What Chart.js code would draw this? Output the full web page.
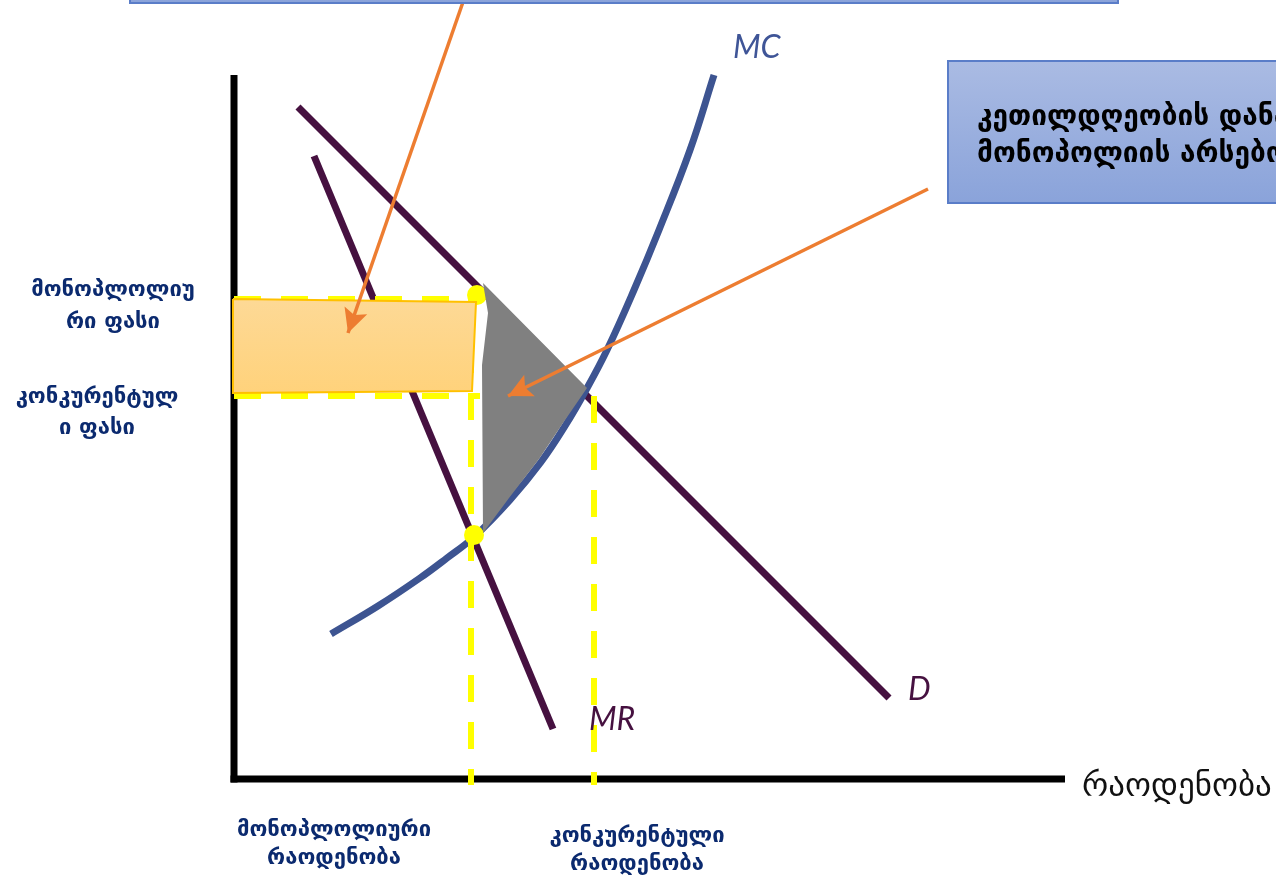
<!DOCTYPE html>
<html lang="ka">
<head>
<meta charset="UTF-8" />
<title>მონოპოლია</title>
<script src="https://cdn.jsdelivr.net/npm/chart.js"></script>
<style>
  html, body { margin: 0; padding: 0; background: #fff; overflow: hidden; }
  canvas { display: block; }
</style>
</head>
<body>
<canvas id="chart" width="1276" height="880"></canvas>
<script>
  // curves (quantity, price)
  const demandQ = [6.4, 65.5];
  const demandP = [67.2, 8.1];
  const mrQ = [8.0, 31.9];
  const mrP = [62.3, 5.0];
  const mcQ = [9.7, 14.4, 18.6, 21.3, 24.0, 27.6, 30.7, 33.1, 35.2, 37.3, 40.0, 42.5, 45.6, 48.0];
  const mcP = [14.5, 17.3, 20.1, 22.1, 24.2, 27.9, 31.7, 35.3, 38.9, 42.9, 48.9, 54.9, 62.9, 70.4];

  // monopoly / competitive outcome
  const monoQ = 23.7;
  const compQ = 36.0;
  const monoP = 48.0;
  const compP = 38.3;
  const guideEndQ = [24.1, 24.6];
  const guideBottom = -0.6;

  // shaded areas
  const rectQ = [-0.1, 24.2, 23.8, -0.2, -0.1];
  const rectP = [48.0, 47.7, 38.8, 38.6, 48.0];
  const dwlQ = [24.9, 25.4, 24.8, 24.9, 27.5, 30.5, 32.9, 35.3, 24.9];
  const dwlP = [49.6, 46.6, 41.4, 24.6, 28.1, 32.0, 35.6, 39.1, 49.6];

  const dotQ = [24.3, 24.0];
  const dotP = [48.4, 24.4];

  // arrows (start -> tip)
  const arrow1Q = [22.9, 11.4];
  const arrow1P = [77.7, 44.6];
  const arrow2Q = [69.4, 27.4];
  const arrow2P = [59.0, 38.3];

  // axes
  const xAxisQ = [-0.35, 83.1];
  const yAxisP = [-0.35, 70.4];

  const pts = (qs, ps) => qs.map((q, i) => ({ x: q, y: ps[i] }));

  function line(label, data, color, width, order, extra) {
    return Object.assign({
      label: label,
      data: data,
      showLine: true,
      borderColor: color,
      borderWidth: width,
      pointRadius: 0,
      fill: false,
      tension: 0,
      order: order,
    }, extra || {});
  }

  const purple = "#461140";
  const yellow = "#FFFF00";
  const orange = "#ED7D31";

  const datasets = [
    line("arrow1", pts(arrow1Q, arrow1P), orange, 3.5, 1, { arrow: true }),
    line("arrow2", pts(arrow2Q, arrow2P), orange, 3.5, 1, { arrow: true }),
    line("dwl", pts(dwlQ, dwlP), "#808080", 0, 2, { fill: "shape", backgroundColor: "#808080" }),
    line("rect", pts(rectQ, rectP), "#FFC000", 2, 3, {
      fill: "shape",
      backgroundColor: (ctx) => {
        const chart = ctx.chart;
        if (!chart.chartArea) return "#FED78A";
        const y = chart.scales.y;
        const g = chart.ctx.createLinearGradient(0, y.getPixelForValue(Math.max(...rectP)), 0, y.getPixelForValue(Math.min(...rectP)));
        g.addColorStop(0, "#FDD996");
        g.addColorStop(1, "#FFD27B");
        return g;
      },
    }),
    {
      label: "dots",
      data: pts(dotQ, dotP),
      pointRadius: 10,
      pointBackgroundColor: yellow,
      pointBorderWidth: 0,
      showLine: false,
      order: 4,
    },
    line("monoP", [{ x: 0, y: monoP }, { x: guideEndQ[0], y: monoP }], yellow, 6, 5, { borderDash: [27, 20] }),
    line("compP", [{ x: 0, y: compP }, { x: guideEndQ[1], y: compP }], yellow, 6, 5, { borderDash: [27, 20] }),
    line("monoQ", [{ x: monoQ, y: monoP }, { x: monoQ, y: guideBottom }], yellow, 6, 5, { borderDash: [27, 20] }),
    line("compQ", [{ x: compQ, y: compP }, { x: compQ, y: guideBottom }], yellow, 6, 5, { borderDash: [27, 20] }),
    line("MC", pts(mcQ, mcP), "#3D5491", 7, 6, { tension: 0.4 }),
    line("MR", pts(mrQ, mrP), purple, 7, 6),
    line("D", pts(demandQ, demandP), purple, 7, 6),
    line("xAxis", [{ x: xAxisQ[0], y: 0 }, { x: xAxisQ[1], y: 0 }], "#000", 7, 7),
    line("yAxis", [{ x: 0, y: yAxisP[0] }, { x: 0, y: yAxisP[1] }], "#000", 7, 7),
  ];

  const navy = "#0B2A6F";
  const small = "bold 22px 'DejaVu Sans'";
  const labels = [
    { t: "მონოპლოლიუ", q: -12.1, p: 48.9, c: navy, f: small, a: "center" },
    { t: "რი ფასი", q: -12.1, p: 45.7, c: navy, f: small, a: "center" },
    { t: "კონკურენტულ", q: -13.7, p: 38.2, c: navy, f: small, a: "center" },
    { t: "ი ფასი", q: -13.7, p: 35.1, c: navy, f: small, a: "center" },
    { t: "მონოპლოლიური", q: 10.0, p: -5.1, c: navy, f: small, a: "center" },
    { t: "რაოდენობა", q: 10.0, p: -7.9, c: navy, f: small, a: "center" },
    { t: "კონკურენტული", q: 40.3, p: -5.7, c: navy, f: small, a: "center" },
    { t: "რაოდენობა", q: 40.3, p: -8.5, c: navy, f: small, a: "center" },
    { t: "რაოდენობა", q: 84.8, p: -0.8, c: "#111", f: "33px 'DejaVu Sans'", a: "left" },
    { t: "MC", q: 49.9, p: 73.1, c: "#3F5597", f: "italic 32px Lato", a: "left" },
    { t: "D", q: 67.4, p: 8.9, c: purple, f: "italic 32px Lato", a: "left" },
    { t: "MR", q: 35.5, p: 5.9, c: purple, f: "italic 32px Lato", a: "left" },
  ];

  // call-out boxes: [q1, p1, q2, p2]
  const boxes = [
    { r: [-10.4, 83.9, 88.4, 77.6], text: [] },
    { r: [71.4, 71.8, 105.6, 57.6], text: ["კეთილდღეობის დანაკარგი", "მონოპოლიის არსებობისას"], q: 74.3, p: [66.1, 62.4] },
  ];

  const overlay = {
    id: "overlay",
    afterDatasetsDraw(chart) {
      const ctx = chart.ctx;
      const xs = chart.scales.x, ys = chart.scales.y;
      // arrow heads
      chart.data.datasets.forEach((ds, i) => {
        if (!ds.arrow) return;
        const pts = chart.getDatasetMeta(i).data;
        const a = pts[pts.length - 2], b = pts[pts.length - 1];
        const ang = Math.atan2(b.y - a.y, b.x - a.x);
        ctx.save();
        ctx.translate(b.x, b.y);
        ctx.rotate(ang);
        ctx.fillStyle = ds.borderColor;
        ctx.beginPath();
        ctx.moveTo(0, 0);
        ctx.lineTo(-24, -12);
        ctx.lineTo(-19, 0);
        ctx.lineTo(-24, 12);
        ctx.closePath();
        ctx.fill();
        ctx.restore();
      });
      // boxes
      boxes.forEach((bx) => {
        const x1 = xs.getPixelForValue(bx.r[0]), y1 = ys.getPixelForValue(bx.r[1]);
        const x2 = xs.getPixelForValue(bx.r[2]), y2 = ys.getPixelForValue(bx.r[3]);
        const g = ctx.createLinearGradient(0, y1, 0, y2);
        g.addColorStop(0, "#AABBE3");
        g.addColorStop(1, "#8AA3DA");
        ctx.save();
        ctx.fillStyle = g;
        ctx.fillRect(x1, y1, x2 - x1, y2 - y1);
        ctx.strokeStyle = "#5A7DC8";
        ctx.lineWidth = 2;
        ctx.strokeRect(x1, y1, x2 - x1, y2 - y1);
        ctx.fillStyle = "#000";
        ctx.font = "bold 28px 'DejaVu Sans'";
        ctx.textBaseline = "middle";
        ctx.textAlign = "left";
        bx.text.forEach((t, k) => {
          ctx.fillText(t, xs.getPixelForValue(bx.q), ys.getPixelForValue(bx.p[k]));
        });
        ctx.restore();
      });
      // labels
      labels.forEach((l) => {
        ctx.save();
        ctx.font = l.f;
        ctx.fillStyle = l.c;
        ctx.textAlign = l.a;
        ctx.textBaseline = "middle";
        ctx.fillText(l.t, xs.getPixelForValue(l.q), ys.getPixelForValue(l.p));
        ctx.restore();
      });
    },
  };

  new Chart(document.getElementById("chart"), {
    type: "scatter",
    data: { datasets: datasets },
    options: {
      responsive: false,
      devicePixelRatio: 1,
      animation: false,
      layout: { padding: 0, autoPadding: false },
      plugins: { legend: { display: false }, tooltip: { enabled: false } },
      scales: {
        x: { type: "linear", min: -23.4, max: 104.2, display: false },
        y: { type: "linear", min: -10.1, max: 77.9, display: false },
      },
    },
    plugins: [overlay],
  });
</script>
</body>
</html>
